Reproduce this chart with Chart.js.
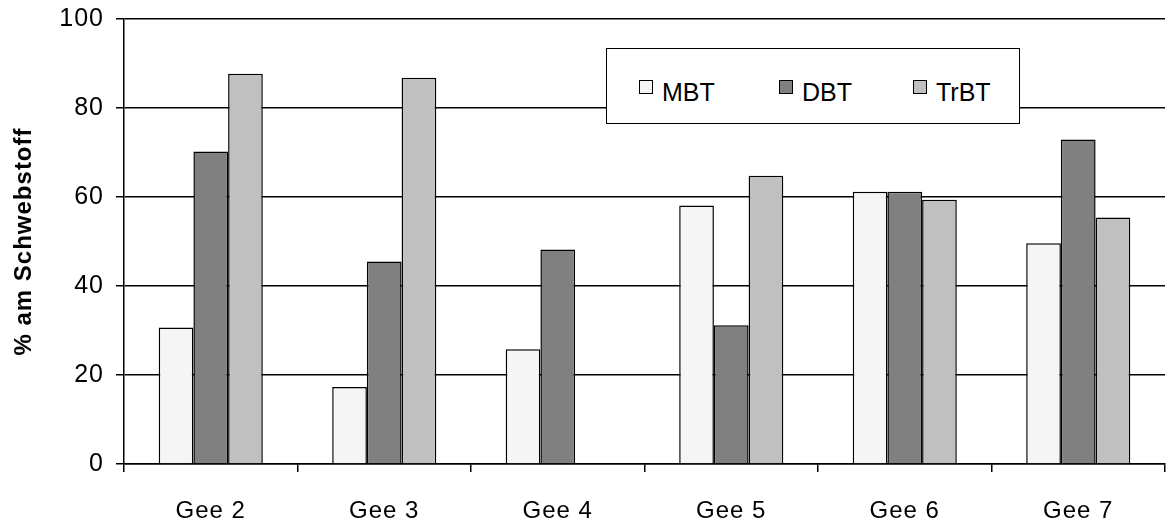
<!DOCTYPE html>
<html>
<head>
<meta charset="utf-8">
<script src="https://cdn.jsdelivr.net/npm/chart.js@4/dist/chart.umd.min.js"></script>
<style>
  body { margin: 0; background: #fff; }
  #wrap { position: relative; width: 1168px; height: 525px; }
  #legend {
    position: absolute; left: 606px; top: 48px; width: 412px; height: 74px;
    background: #fff; border: 1.5px solid #000;
    font-family: "Liberation Sans", Arial, sans-serif; font-size: 25px; color: #000;
  }
  #legend .item { position: absolute; top: 26px; line-height: 34px; }
  #legend .sw {
    display: inline-block; width: 12px; height: 12px; border: 1.5px solid #000;
    margin-right: 9px; vertical-align: 7px;
  }
</style>
</head>
<body>
<div id="wrap">
  <canvas id="chart" width="1168" height="525"></canvas>
  <div id="legend"></div>
</div>
<script>
// data
var categories = ["Gee 2", "Gee 3", "Gee 4", "Gee 5", "Gee 6", "Gee 7"];
var mbt  = [30.7, 17.3, 25.8, 58.1, 61.2, 49.6];
var dbt  = [70.2, 45.5, 48.2, 31.2, 61.2, 72.9];
var trbt = [87.7, 86.8, 0,    64.8, 59.4, 55.4];
var seriesNames = ["MBT", "DBT", "TrBT"];
var seriesColors = ["#f5f5f5", "#808080", "#c0c0c0"];
var yTicks = [0, 20, 40, 60, 80, 100];

var font = "'Liberation Sans', Arial, sans-serif";

function makeSet(label, color, data) {
  return {
    label: label,
    data: data,
    backgroundColor: color,
    borderColor: "#000",
    borderWidth: 1.5,
    borderSkipped: "bottom"
  };
}

// the reference text is set a little wide
var spacing = {
  id: "spacing",
  beforeDraw: function(c) { c.ctx.letterSpacing = "1px"; }
};

var chart = new Chart(document.getElementById("chart"), {
  type: "bar",
  plugins: [spacing],
  data: {
    labels: categories,
    datasets: [
      makeSet(seriesNames[0], seriesColors[0], mbt),
      makeSet(seriesNames[1], seriesColors[1], dbt),
      makeSet(seriesNames[2], seriesColors[2], trbt)
    ]
  },
  options: {
    responsive: false,
    animation: false,
    devicePixelRatio: 1,
    layout: { autoPadding: false, padding: { top: 19, right: 3, left: 0, bottom: 0 } },
    datasets: { bar: { barPercentage: 1, categoryPercentage: 0.6 } },
    plugins: { legend: { display: false }, tooltip: { enabled: false } },
    scales: {
      x: {
        offset: true,
        grid: { offset: true, drawOnChartArea: false, drawTicks: true, tickLength: 8, color: "#000", lineWidth: 1.5 },
        border: { color: "#000", width: 1.5 },
        ticks: { color: "#000", font: { family: font, size: 24 }, padding: 25 },
        afterFit: function(s) { s.height = 61; s.paddingLeft = 0; s.paddingRight = 0; }
      },
      y: {
        min: 0, max: 100,
        afterBuildTicks: function(s) { s.ticks = yTicks.map(function(v) { return { value: v }; }); },
        grid: { color: "#000", lineWidth: 1.5, tickLength: 8 },
        border: { color: "#000", width: 1.5 },
        ticks: { color: "#000", font: { family: font, size: 25 }, padding: 12 },
        title: {
          display: true, text: "% am Schwebstoff", color: "#000",
          font: { family: font, size: 24, weight: "bold" }, padding: { top: 10, bottom: 0 }
        },
        afterFit: function(s) { s.width = 124; s.paddingTop = 0; s.paddingBottom = 0; }
      }
    }
  }
});

// boxed legend laid over the plot
var lefts = [32, 172, 306];
var lg = document.getElementById("legend");
seriesNames.forEach(function(name, i) {
  var it = document.createElement("div");
  it.className = "item";
  it.style.left = lefts[i] + "px";
  it.innerHTML = '<span class="sw" style="background:' + seriesColors[i] + '"></span>' + name;
  lg.appendChild(it);
});
</script>
</body>
</html>
